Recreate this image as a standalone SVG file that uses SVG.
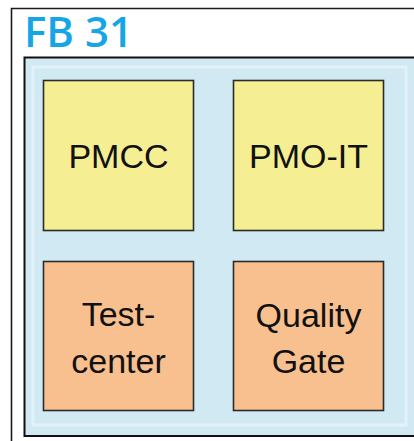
<svg xmlns="http://www.w3.org/2000/svg" width="414" height="441" viewBox="0 0 414 441">
<style>
.frame{fill:none;stroke:#1a1a1a;stroke-width:1.6}
.box{stroke:#2b2b2b;stroke-width:1.6}
.y{fill:#f5ee92}
.o{fill:#f8c08f}
.lbl{font-family:"Liberation Sans",Arial,sans-serif;font-size:34px;fill:#111;text-anchor:middle}
</style>
<rect x="0" y="0" width="414" height="441" fill="#ffffff"/>
<path class="frame" d="M11.5 441 V8.5 H414"/>
<text x="24" y="47" font-family="'Open Sans','Noto Sans',sans-serif" font-size="42" font-weight="600" fill="#16a6e6">FB 31</text>
<rect x="24.5" y="57.5" width="395" height="378.5" fill="#d0e9f3" stroke="#111" stroke-width="2"/>
<rect x="33" y="67" width="373" height="358" fill="none" stroke="#e2f2f8" stroke-width="3"/>
<g id="pmcc">
<rect class="box y" x="43.5" y="80.5" width="150" height="150"/>
<text class="lbl" x="118.5" y="168">PMCC</text>
</g>
<g id="pmo-it">
<rect class="box y" x="233.5" y="80.5" width="150" height="150"/>
<text class="lbl" x="308.5" y="168">PMO-IT</text>
</g>
<g id="testcenter">
<rect class="box o" x="43.5" y="261.5" width="150" height="149"/>
<text class="lbl" x="118.5" y="326">Test-</text>
<text class="lbl" x="118.5" y="373">center</text>
</g>
<g id="qualitygate">
<rect class="box o" x="233.5" y="261.5" width="150" height="149"/>
<text class="lbl" x="308.5" y="327">Quality</text>
<text class="lbl" x="308.5" y="373">Gate</text>
</g>
<g id="connectors"></g>
</svg>
